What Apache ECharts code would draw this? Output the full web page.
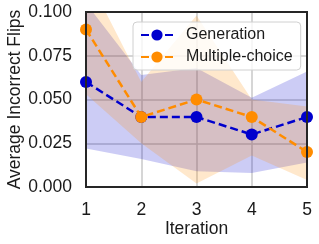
<!DOCTYPE html>
<html>
<head>
<meta charset="utf-8">
<script src="https://cdn.jsdelivr.net/npm/echarts@6/dist/echarts.min.js"></script>
<style>
html,body{margin:0;padding:0;background:#fff;}
#chart{width:319px;height:244px;}
</style>
</head>
<body>
<div id="chart"></div>
<script>
var iterations = ['1', '2', '3', '4', '5'];
var genMean = [0.06, 0.04, 0.04, 0.03, 0.04];
var genLower = [0.022, 0.016, 0.009, 0.008, 0.014];
var genUpper = [0.105, 0.064, 0.068, 0.051, 0.066];
var mcMean = [0.09, 0.04, 0.05, 0.04, 0.02];
var mcLower = [0.053, 0.025, 0.002, 0.018, 0.004];
var mcUpper = [0.122, 0.060, 0.098, 0.050, 0.046];
var yTicks = [0, 0.025, 0.05, 0.075, 0.1];

var BLUE = '#0000CD';
var ORANGE = '#FF8C00';
var FONT = 'Liberation Sans';

function diff(u, l) { return u.map(function (v, i) { return +(v - l[i]).toFixed(4); }); }

var chart = echarts.init(document.getElementById('chart'), null, {renderer: 'canvas'});
chart.setOption({
  animation: false,
  backgroundColor: '#fff',
  textStyle: {fontFamily: FONT},
  grid: {left: 86, top: 12, right: 12, bottom: 57, containLabel: false, outerBoundsMode: 'none',
    show: true, borderColor: '#262626', borderWidth: 2, backgroundColor: 'transparent', z: 10},
  legend: {
    data: ['Generation', 'Multiple-choice'],
    left: 133, top: 22, orient: 'vertical',
    padding: [5, 8, 5, 7],
    itemWidth: 32, itemHeight: 14, itemGap: 6,
    backgroundColor: 'rgba(255,255,255,0.8)', borderColor: '#d0d0d0', borderWidth: 1, borderRadius: 4,
    textStyle: {fontFamily: FONT, fontSize: 16, color: '#1a1a1a', padding: [0, 0, 0, 8]}
  },
  xAxis: {
    type: 'category', data: iterations, boundaryGap: false,
    name: 'Iteration', nameLocation: 'middle', nameGap: 33, nameMoveOverlap: false,
    nameTextStyle: {fontFamily: FONT, fontSize: 17.5, color: '#1a1a1a'},
    axisLine: {show: false}, axisTick: {show: false},
    axisLabel: {fontFamily: FONT, fontSize: 17.5, color: '#1a1a1a', margin: 14},
    splitLine: {show: true, lineStyle: {color: '#c8c8c8', width: 1.5}}
  },
  yAxis: {
    type: 'value', min: 0, max: 0.1, interval: 0.025,
    name: 'Average Incorrect Flips', nameLocation: 'middle', nameGap: 62, nameMoveOverlap: false,
    nameTextStyle: {fontFamily: FONT, fontSize: 17.5, color: '#1a1a1a'},
    axisLine: {show: false}, axisTick: {show: false},
    axisLabel: {fontFamily: FONT, fontSize: 17.5, color: '#1a1a1a', margin: 14,
      formatter: function (v) { return v.toFixed(3); }},
    splitLine: {show: true, lineStyle: {color: '#c8c8c8', width: 1.5}}
  },
  series: [
    {name: 'genLow', type: 'line', stack: 'gen', data: genLower, symbol: 'none', lineStyle: {opacity: 0}, silent: true},
    {name: 'genBand', type: 'line', stack: 'gen', data: diff(genUpper, genLower), symbol: 'none', lineStyle: {opacity: 0},
      areaStyle: {color: BLUE, opacity: 0.2}, silent: true},
    {name: 'mcLow', type: 'line', stack: 'mc', data: mcLower, symbol: 'none', lineStyle: {opacity: 0}, silent: true},
    {name: 'mcBand', type: 'line', stack: 'mc', data: diff(mcUpper, mcLower), symbol: 'none', lineStyle: {opacity: 0},
      areaStyle: {color: ORANGE, opacity: 0.2}, silent: true},
    {name: 'Generation', type: 'line', data: genMean, symbol: 'circle', symbolSize: 12,
      itemStyle: {color: BLUE}, lineStyle: {color: BLUE, width: 2.5, type: [8, 4]}, z: 5},
    {name: 'Multiple-choice', type: 'line', data: mcMean, symbol: 'circle', symbolSize: 12,
      itemStyle: {color: ORANGE}, lineStyle: {color: ORANGE, width: 2.5, type: [8, 4]}, z: 6}
  ]
});
</script>
</body>
</html>
